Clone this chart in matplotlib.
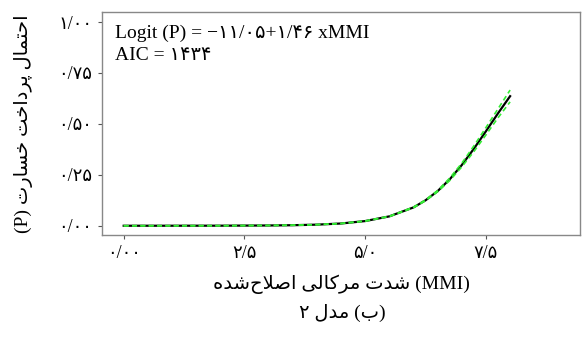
import matplotlib
matplotlib.use('Agg')
import matplotlib.pyplot as plt

plt.rcParams['font.family'] = ['Liberation Serif', 'DejaVu Sans']

# داده‌ها (خوانده شده از تصویر)
mmi = [0, 1, 2, 3, 3.5, 4, 4.5, 5, 5.5, 6, 6.25, 6.5, 6.75, 7, 7.25, 7.5, 7.75, 8]
p_fit = [0.000, 0.0001, 0.0003, 0.0013, 0.0026, 0.0054, 0.011, 0.023, 0.046,
         0.090, 0.125, 0.170, 0.228, 0.298, 0.378, 0.464, 0.552, 0.636]
p_low = [0.000, 0.0001, 0.0003, 0.0012, 0.0025, 0.0052, 0.0107, 0.0224, 0.0452,
         0.0885, 0.123, 0.167, 0.222, 0.289, 0.364, 0.446, 0.530, 0.608]
p_up = [0.000, 0.0001, 0.0003, 0.0014, 0.0027, 0.0056, 0.0113, 0.0236, 0.0468,
        0.0915, 0.127, 0.173, 0.234, 0.307, 0.392, 0.482, 0.574, 0.666]

x_ticks = [0, 2.5, 5, 7.5]
x_ticklabels = ['۰/۰۰', '۲/۵', '۵/۰', '۷/۵']
y_ticks = [0, 0.25, 0.5, 0.75, 1.0]
y_ticklabels = ['۰/۰۰', '۰/۲۵', '۰/۵۰', '۰/۷۵', '۱/۰۰']

# شکل‌دهی ساده حروف فارسی (matplotlib اتصال و راست‌به‌چپ را انجام نمی‌دهد)
FORMS = {
    'ا': ('\uFE8D', '\uFE8E', None, None),
    'ب': ('\uFE8F', '\uFE90', '\uFE91', '\uFE92'),
    'ت': ('\uFE95', '\uFE96', '\uFE97', '\uFE98'),
    'ح': ('\uFEA1', '\uFEA2', '\uFEA3', '\uFEA4'),
    'خ': ('\uFEA5', '\uFEA6', '\uFEA7', '\uFEA8'),
    'د': ('\uFEA9', '\uFEAA', None, None),
    'ر': ('\uFEAD', '\uFEAE', None, None),
    'س': ('\uFEB1', '\uFEB2', '\uFEB3', '\uFEB4'),
    'ش': ('\uFEB5', '\uFEB6', '\uFEB7', '\uFEB8'),
    'ص': ('\uFEB9', '\uFEBA', '\uFEBB', '\uFEBC'),
    'ل': ('\uFEDD', '\uFEDE', '\uFEDF', '\uFEE0'),
    'م': ('\uFEE1', '\uFEE2', '\uFEE3', '\uFEE4'),
    'ه': ('\uFEE9', '\uFEEA', '\uFEEB', '\uFEEC'),
    'پ': ('\uFB56', '\uFB57', '\uFB58', '\uFB59'),
    'ک': ('\uFB8E', '\uFB8F', '\uFB90', '\uFB91'),
    'ی': ('\uFBFC', '\uFBFD', '\uFBFE', '\uFBFF'),
    'لا': ('\uFEFB', '\uFEFC', None, None),
}


def fa(text):
    # لام‌الف به صورت یک حرف
    chars = []
    i = 0
    while i < len(text):
        if text[i:i + 2] == 'لا':
            chars.append('لا')
            i += 2
        else:
            chars.append(text[i])
            i += 1
    out = []
    for k, c in enumerate(chars):
        if c not in FORMS:
            out.append('' if c == '\u200c' else c)
            continue
        prev = chars[k - 1] if k > 0 else None
        nxt = chars[k + 1] if k + 1 < len(chars) else None
        join_prev = prev in FORMS and FORMS[prev][2] is not None
        join_next = nxt in FORMS and FORMS[c][2] is not None
        iso, fin, ini, med = FORMS[c]
        if join_prev and join_next:
            out.append(med)
        elif join_prev:
            out.append(fin)
        elif join_next:
            out.append(ini)
        else:
            out.append(iso)
    return ''.join(out[::-1])


fig = plt.figure(figsize=(5.86, 3.38), dpi=100)
ax = fig.add_axes([0.174, 0.305, 0.816, 0.66])

ax.plot(mmi, p_fit, color='black', lw=1.6, zorder=2)
ax.plot(mmi, p_low, color='#33ee33', lw=1.2, ls=(0, (3, 2)), zorder=3)
ax.plot(mmi, p_up, color='#33ee33', lw=1.2, ls=(0, (3, 2)), zorder=3)

ax.set_xlim(-0.45, 9.45)
ax.set_ylim(-0.045, 1.05)
ax.set_xticks(x_ticks)
ax.set_xticklabels(x_ticklabels, fontsize=13)
ax.set_yticks(y_ticks)
ax.set_yticklabels(y_ticklabels, fontsize=13)
ax.tick_params(length=3, width=0.8, color='#555555', pad=4)
for s in ax.spines.values():
    s.set_color('#888888')
    s.set_linewidth(1.0)

ax.text(-0.17, 0.985, 'Logit (P) = −۱۱/۰۵+۱/۴۶ xMMI\nAIC = ۱۴۳۴',
        fontsize=14, va='top', ha='left', linespacing=1.35)

ax.set_ylabel('(P) ' + fa('احتمال پرداخت خسارت'), fontsize=14, labelpad=18)
ax.set_xlabel(fa('شدت مرکالی اصلاح\u200cشده') + ' (MMI)', fontsize=14, labelpad=9)
fig.text(0.585, 0.074, '۲ ' + fa('مدل') + ' (' + fa('ب') + ')', fontsize=14,
         ha='center', va='center')

fig.savefig('out.png', dpi=100)
plt.close(fig)
